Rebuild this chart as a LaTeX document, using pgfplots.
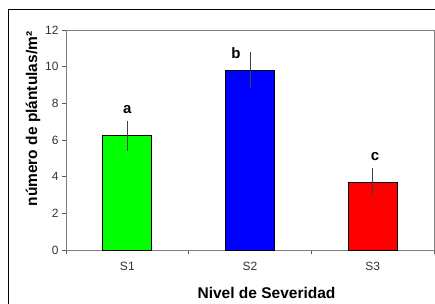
\documentclass[border=0pt]{standalone}
\usepackage{pgfplots}
\pgfplotsset{compat=1.18}
\usepackage{fontspec}
\setmainfont{Liberation Sans}
\begin{document}
\begin{tikzpicture}[x=1pt,y=1pt]
\useasboundingbox (0,0) rectangle (435,303);
\clip (0,0) rectangle (435,303);
\draw[black, line width=1pt] (8,-10) rectangle (445,293);
\begin{axis}[
  at={(66pt,53pt)}, anchor=south west,
  width=368pt, height=220pt, scale only axis,
  xmin=0.5, xmax=3.5, ymin=0, ymax=12,
  axis line style={draw=gray, line width=0.9pt},
  xtick={1,2,3}, xticklabels={S1,S2,S3},
  minor xtick={0.5,1.5,2.5,3.5},
  ytick={0,2,4,6,8,10,12},
  tick align=outside,
  major tick length=4pt, minor tick length=4pt,
  major x tick style={draw=none},
  tick style={gray!70!black, line width=0.8pt},
  xtick pos=bottom, ytick pos=left,
  tick label style={font=\fontsize{12}{14}\selectfont, text=black!80},
  /pgf/number format/assume math mode=true,
  xticklabel style={yshift=-5pt},
  bar width=49pt,
  clip=false,
]
\addplot[ybar, bar shift=0pt, fill={rgb,255:red,0;green,255;blue,0}, draw=black, line width=0.8pt,
  error bars/.cd, y dir=both, y explicit, error mark=none,
  error bar style={black!75, line width=0.9pt}]
  coordinates {(1,6.24) +- (0,0.82)};
\addplot[ybar, bar shift=0pt, fill={rgb,255:red,0;green,0;blue,255}, draw=black, line width=0.8pt,
  error bars/.cd, y dir=both, y explicit, error mark=none,
  error bar style={black!75, line width=0.9pt}]
  coordinates {(2,9.82) +- (0,0.97)};
\addplot[ybar, bar shift=0pt, fill={rgb,255:red,255;green,0;blue,0}, draw=black, line width=0.8pt,
  error bars/.cd, y dir=both, y explicit, error mark=none,
  error bar style={black!75, line width=0.9pt}]
  coordinates {(3,3.69) +- (0,0.76)};
\node[font=\fontsize{15}{17}\selectfont\bfseries] at (axis cs:1,7.64) {a};
\node[font=\fontsize{15}{17}\selectfont\bfseries] at (axis cs:1.886,10.72) {b};
\node[font=\fontsize{15}{17}\selectfont\bfseries] at (axis cs:3.02,5.1) {c};
\end{axis}
\node[rotate=90, font=\fontsize{15.5}{18}\selectfont\bfseries] at (33,184) {número de plántulas/m²};
\node[font=\fontsize{15.5}{18}\selectfont\bfseries] at (266.5,10) {Nivel de Severidad};
\end{tikzpicture}
\end{document}
